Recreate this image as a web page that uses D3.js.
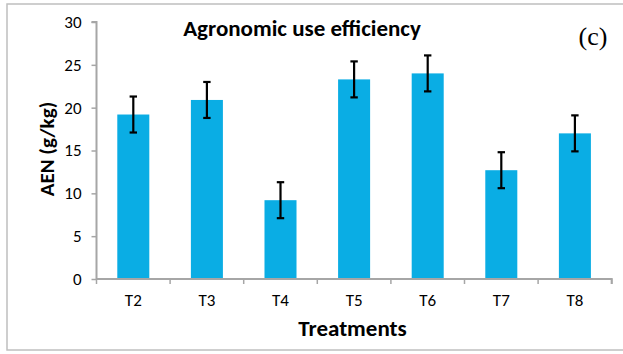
<!DOCTYPE html>
<html><head><meta charset="utf-8">
<script src="https://cdn.jsdelivr.net/npm/d3@7"></script>
<style>body{margin:0;background:#fff}svg{display:block}</style>
</head><body>
<svg id="c" width="623" height="354"></svg>
<script>
const categories = ["T2","T3","T4","T5","T6","T7","T8"];
const values = [19.2, 20.9, 9.2, 23.3, 24.0, 12.7, 17.0];
const errors = [2.1, 2.1, 2.1, 2.1, 2.1, 2.1, 2.1];
const yTicks = [0,5,10,15,20,25,30];

const svg = d3.select("#c");
const font = "Calibri, Carlito, 'Open Sans', sans-serif";
// outer border
svg.append("rect").attr("x",7).attr("y",4).attr("width",640).attr("height",346)
  .attr("fill","none").attr("stroke","#bfbfbf").attr("stroke-width",1.5);

const pL = 96.5, pR = 611.7, pT = 22, pB = 279;
const x = d3.scaleBand().domain(categories).range([pL,pR]).paddingInner(0.565).paddingOuter(0.2825);
const y = d3.scaleLinear().domain([0,30]).range([pB,pT]);

// bars
svg.append("g").selectAll("rect").data(values).join("rect")
  .attr("x",(d,i)=>x(categories[i])).attr("width",x.bandwidth())
  .attr("y",d=>y(d)).attr("height",d=>y(0)-y(d))
  .attr("fill","#0AADE4");

// axes
const yAxis = svg.append("g").attr("transform",`translate(${pL},0)`)
  .call(d3.axisLeft(y).tickValues(yTicks).tickSize(5).tickPadding(10));
const xb = d3.scaleBand().domain(categories).range([pL,pR]);
const xAxis = svg.append("g").attr("transform",`translate(0,${pB})`)
  .call(d3.axisBottom(xb).tickSize(0).tickPadding(15));
// category boundary ticks
const bounds = d3.range(categories.length+1).map(i=>pL + i*xb.step());
xAxis.selectAll("line.bt").data(bounds).join("line").attr("class","bt")
  .attr("x1",d=>d).attr("x2",d=>d).attr("y1",0).attr("y2",5)
  .attr("stroke","#a6a6a6").attr("stroke-width",1.5);
[yAxis,xAxis].forEach(g=>{
  g.attr("font-size",17).attr("font-family",font);
  g.select(".domain").attr("stroke","#a6a6a6").attr("stroke-width",2);
  g.selectAll(".tick line").attr("stroke","#a6a6a6").attr("stroke-width",1.5);
  g.selectAll("text").attr("font-family",font).attr("font-size",17).attr("fill","#000");
});
yAxis.select(".domain").attr("d",`M-5,${pT}H0V${pB}`);
xAxis.select(".domain").attr("d",`M${pL},0H${pR}V5`);

// error bars
const eb = svg.append("g").attr("stroke","#000").attr("stroke-width",2.2);
values.forEach((v,i)=>{
  const cx = x(categories[i]) + x.bandwidth()/2;
  eb.append("line").attr("x1",cx).attr("x2",cx).attr("y1",y(v+errors[i])).attr("y2",y(v-errors[i]));
  eb.append("line").attr("x1",cx-3.7).attr("x2",cx+3.7).attr("y1",y(v+errors[i])).attr("y2",y(v+errors[i]));
  eb.append("line").attr("x1",cx-3.7).attr("x2",cx+3.7).attr("y1",y(v-errors[i])).attr("y2",y(v-errors[i]));
});

// titles
svg.append("text").attr("x",302).attr("y",35.5).attr("text-anchor","middle")
  .attr("font-family",font).attr("font-weight","bold").attr("font-size",23).text("Agronomic use efficiency");
svg.append("text").attr("x",593).attr("y",45).attr("text-anchor","middle")
  .attr("font-family","'Liberation Serif', serif").attr("font-size",26).text("(c)");
svg.append("text").attr("x",352.5).attr("y",336).attr("text-anchor","middle")
  .attr("font-family",font).attr("font-weight","bold").attr("font-size",23).text("Treatments");
svg.append("text").attr("transform","translate(54,149) rotate(-90)").attr("text-anchor","middle")
  .attr("font-family",font).attr("font-weight","bold").attr("font-size",21).text("AEN (g/kg)");
</script>
</body></html>
